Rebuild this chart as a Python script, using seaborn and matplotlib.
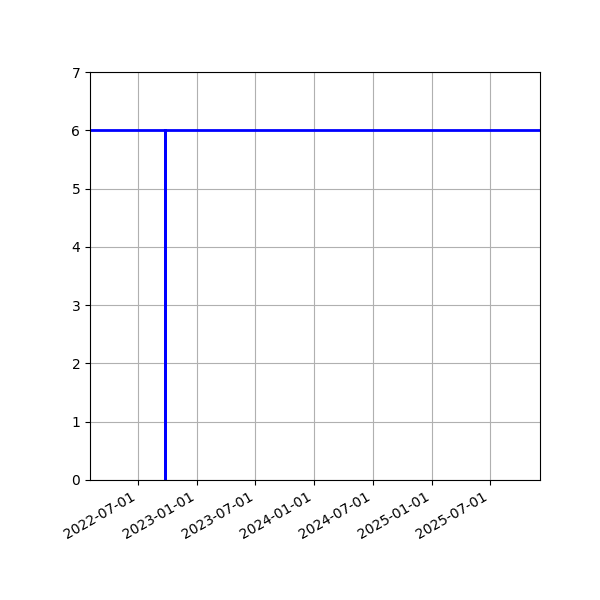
import pandas as pd
import matplotlib
matplotlib.use('Agg')
import matplotlib.pyplot as plt
import matplotlib.dates as mdates
import seaborn as sns

# Step data: flat at 6 with a single drop to 0 in late Sep 2022
dates = ['2022-02-01', '2022-09-23', '2022-09-23', '2022-09-23', '2025-12-05']
values = [6, 6, 0, 6, 6]

df = pd.DataFrame({'date': pd.to_datetime(dates), 'value': values})

fig, ax = plt.subplots(figsize=(6, 6), dpi=100)
sns.lineplot(data=df, x='date', y='value', ax=ax, color='blue', linewidth=2,
             estimator=None, sort=False)

ax.set_ylim(0, 7)
ax.margins(x=0)
ax.xaxis.set_major_locator(mdates.MonthLocator(bymonth=[1, 7]))
ax.xaxis.set_major_formatter(mdates.DateFormatter('%Y-%m-%d'))
ax.set_xlabel('')
ax.set_ylabel('')
ax.grid(True)
fig.autofmt_xdate()
plt.subplots_adjust(left=0.15, right=0.9, top=0.88, bottom=0.2)

plt.savefig('out.png', dpi=100)
